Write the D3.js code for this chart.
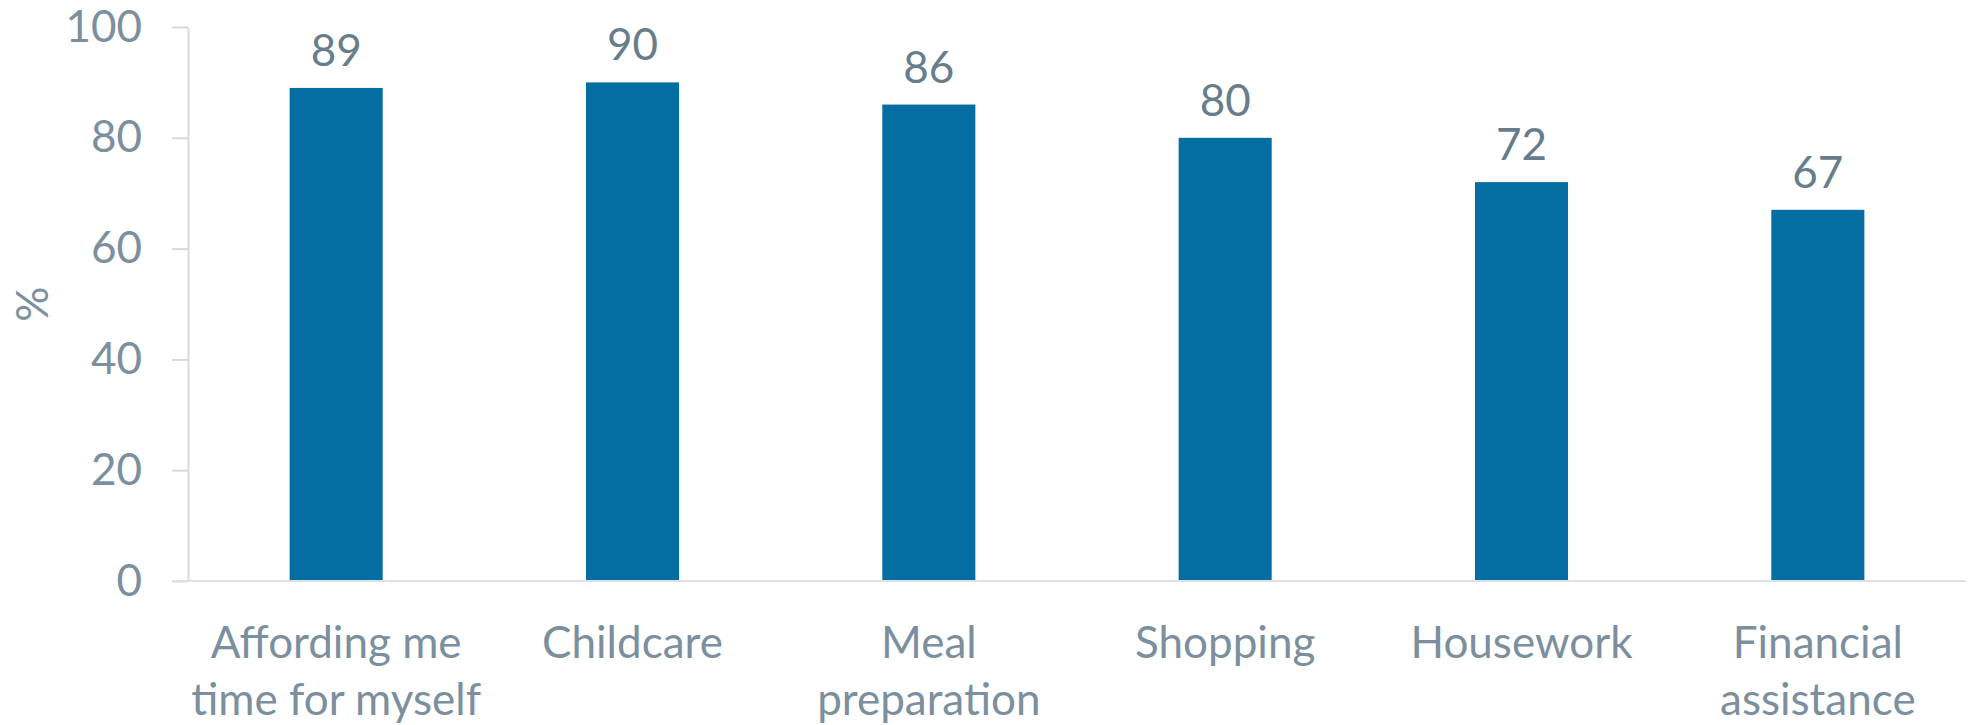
<!DOCTYPE html>
<html>
<head>
<meta charset="utf-8">
<script src="https://cdn.jsdelivr.net/npm/d3@7"></script>
<style>
  html, body { margin: 0; padding: 0; background: #ffffff; }
  svg { display: block; }
  text { font-family: Lato, "Open Sans", sans-serif; }
</style>
</head>
<body>
<svg id="chart" width="1971" height="725"></svg>
<script>
// Share of respondents (%) citing each kind of help
const categories = [
  ["Affording me", "time for myself"],
  ["Childcare"],
  ["Meal", "preparation"],
  ["Shopping"],
  ["Housework"],
  ["Financial", "assistance"]
];
const values = [89, 90, 86, 80, 72, 67];
const yTicks = [0, 20, 40, 60, 80, 100];
const yLabel = "%";

const svg = d3.select("#chart");
const plotLeft = 188, plotRight = 1966, plotTop = 27, plotBottom = 581;

const keys = categories.map(c => c.join(" "));
const x = d3.scaleBand()
  .domain(keys)
  .range([plotLeft, plotRight])
  .paddingInner(0.686)
  .paddingOuter(0.343);

const y = d3.scaleLinear().domain([0, 100]).range([plotBottom, plotTop]);

const fontSize = 44;
const tickColor = "#7B8F9E";
const labelColor = "#687D8C";

// Y axis
const yAxis = svg.append("g")
  .attr("transform", `translate(${plotLeft},0)`)
  .call(d3.axisLeft(y).tickValues(yTicks).tickSize(16).tickPadding(30).tickSizeOuter(0));
yAxis.select(".domain").attr("stroke", "#D9D9D9").attr("stroke-width", 2);
yAxis.selectAll(".tick line").attr("stroke", "#D9D9D9").attr("stroke-width", 2);
yAxis.selectAll(".tick text")
  .attr("fill", tickColor)
  .style("font-size", fontSize + "px")
  .style("font-family", "Lato, 'Open Sans', sans-serif");

// Bars
svg.append("g").selectAll("rect")
  .data(values)
  .join("rect")
  .attr("x", (d, i) => x(keys[i]))
  .attr("y", d => y(d))
  .attr("width", x.bandwidth())
  .attr("height", d => y(0) - y(d))
  .attr("fill", "#046DA1");

// X axis baseline
svg.append("line")
  .attr("x1", plotLeft - 16).attr("x2", plotRight)
  .attr("y1", y(0)).attr("y2", y(0))
  .attr("stroke", "#DCE1E6").attr("stroke-width", 2);

// Value labels
svg.append("g").selectAll("text")
  .data(values)
  .join("text")
  .attr("x", (d, i) => x(keys[i]) + x.bandwidth() / 2)
  .attr("y", d => y(d) - 22)
  .attr("text-anchor", "middle")
  .attr("fill", labelColor)
  .style("font-size", fontSize + "px")
  .text(d => d);

// Category labels
const catG = svg.append("g").selectAll("text")
  .data(categories)
  .join("text")
  .attr("x", (d, i) => x(keys[i]) + x.bandwidth() / 2)
  .attr("y", 658)
  .attr("text-anchor", "middle")
  .attr("fill", tickColor)
  .style("font-size", fontSize + "px");
catG.each(function(lines) {
  const t = d3.select(this);
  const cx = t.attr("x");
  lines.forEach((ln, j) => {
    t.append("tspan").attr("x", cx).attr("dy", j === 0 ? 0 : 57).text(ln);
  });
});

// Y axis title
svg.append("text")
  .attr("transform", `translate(48,${(plotTop + plotBottom) / 2}) rotate(-90)`)
  .attr("text-anchor", "middle")
  .attr("fill", tickColor)
  .style("font-size", fontSize + "px")
  .text(yLabel);
</script>
</body>
</html>
